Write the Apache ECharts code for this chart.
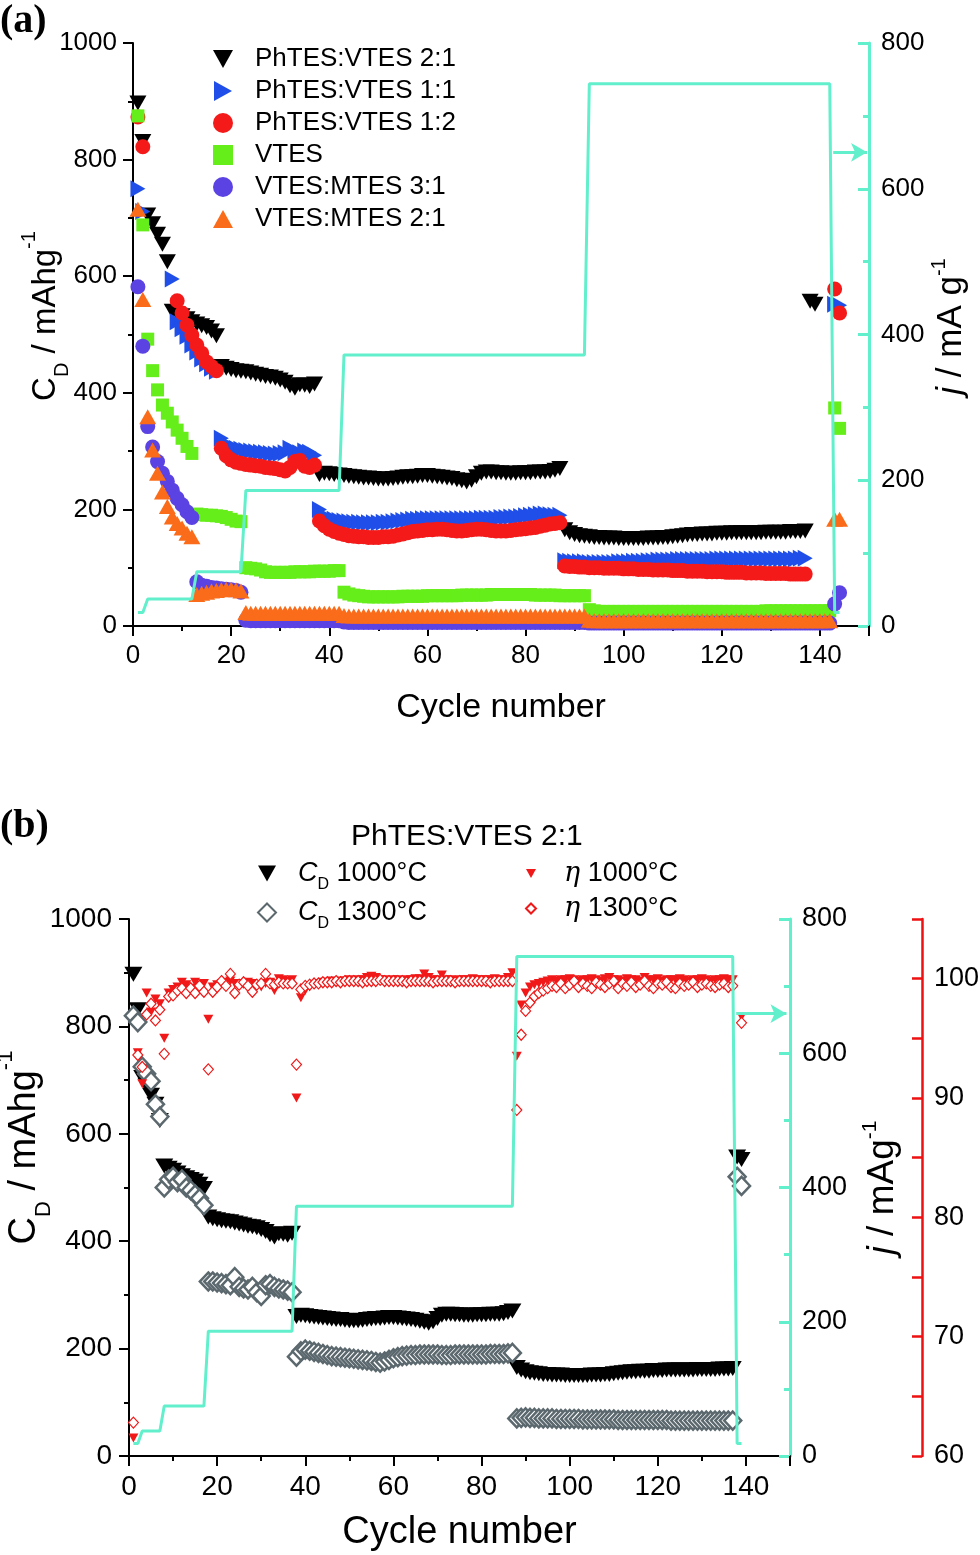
<!DOCTYPE html>
<html>
<head>
<meta charset="utf-8">
<script src="https://cdn.jsdelivr.net/npm/echarts@6/dist/echarts.min.js"></script>
<style>
  html, body { margin: 0; background: #fff; }
  #chart { width: 980px; height: 1555px; }
</style>
</head>
<body>
<div id="chart"></div>
<script>
const FONT = 'Liberation Sans, Arial, sans-serif';
const CYAN = '#62efcb';

// ---- panel (b) data, cycles 1..139 (also used for PhTES:VTES 2:1 in panel a) ----
const cd1000 = [
  897, 831, 705, 690, 672, 655, 625,
  540, 536, 532, 527, 522, 518, 515, 512, 506, 498,
  445, 442, 440, 438, 437, 436, 434, 432, 430, 428, 427, 425, 422, 418, 412, 408, 414, 413, 411, 415,
  260, 262, 261, 260, 259, 258, 257, 256, 255, 254,
  254, 253, 252, 252, 252, 253, 254, 255, 256, 256,
  257, 258, 258, 257, 256, 255, 254, 253, 251, 249,
  247, 250, 256, 262, 264, 264, 263, 263, 262, 262,
  262, 263, 263, 263, 264, 264, 264, 265, 267, 270,
  165, 160, 157, 155, 154, 153, 152, 152, 151, 151,
  151, 150, 150, 150, 150, 150, 150, 151, 151, 151,
  152, 152, 153, 154, 155, 156, 157, 157, 158, 158,
  158, 159, 159, 159, 160, 160, 160, 160, 160, 160,
  160, 161, 161, 161, 161, 161, 162, 162, 162, 163,
  557, 552
];
const cd1300 = [
  820, 808, 725, 712, 698, 655, 632,
  500, 515, 520, 510, 515, 500, 495, 487, 480, 467,
  325, 325, 323, 322, 320, 318, 333, 315, 312, 310, 315, 305, 298, 318, 320, 315, 312, 310, 308, 305,
  185, 195, 198, 196, 194, 192, 190, 188, 186, 185,
  184, 183, 182, 181, 180, 179, 178, 177, 175, 174,
  176, 179, 182, 184, 186, 187, 188, 188, 189, 189,
  189, 189, 189, 188, 188, 188, 189, 189, 189, 189,
  189, 189, 189, 189, 190, 190, 190, 190, 191, 192,
  70, 71, 72, 71, 71, 70, 70, 70, 70, 69,
  69, 69, 69, 69, 69, 68, 68, 68, 68, 68,
  68, 68, 68, 67, 67, 67, 67, 67, 67, 67,
  67, 67, 67, 67, 67, 66, 66, 66, 66, 66,
  66, 66, 66, 66, 66, 66, 66, 66, 66, 66,
  520, 503
];
const eta1000 = [
  61.5, 93.8, 91.2, 98.8, 97.2, 98.3, 97.9, 95.0, 98.8, 99.1,
  99.3, 99.7, 99.5, 99.2, 99.7, 99.4, 99.6, 96.6, 99.3, 99.5,
  99.6, 99.7, 99.8, 99.6, 99.5, 99.6, 99.7, 99.6, 99.4, 99.3,
  99.6, 99.7, 99.0, 100.0, 99.9, 99.8, 99.9, 90.0, 98.4, 99.0,
  99.3, 99.5, 99.6, 99.7, 99.7, 99.8, 99.7, 99.8, 99.8, 99.9,
  99.8, 99.9, 99.9, 100.1, 100.2, 100.1, 99.9, 99.9, 99.8, 99.9,
  99.9, 99.8, 99.9, 99.9, 100.0, 100.0, 100.4, 100.1, 99.9, 99.9,
  100.3, 99.9, 99.9, 99.8, 99.9, 99.9, 99.9, 100.0, 99.9, 99.9,
  99.9, 99.9, 100.0, 99.9, 99.9, 100.1, 100.5, 93.5, 97.8, 98.8,
  99.3, 99.5, 99.6, 99.7, 99.8, 99.9, 99.8, 99.9, 99.9, 100.0,
  99.9, 99.8, 99.9, 99.9, 100.0, 99.9, 99.8, 100.0, 100.1, 99.9,
  99.9, 99.8, 100.0, 99.9, 99.9, 99.8, 100.1, 99.9, 99.9, 100.0,
  99.8, 99.9, 99.9, 99.9, 100.0, 99.9, 99.8, 99.9, 99.9, 100.0,
  99.9, 99.8, 99.9, 99.9, 100.0, 99.9, 99.9,
  null, 96.8
];
const eta1300 = [
  62.8, 93.6, 92.6, 97.0, 97.9, 96.5, 97.4, 93.7, 98.5, 98.6,
  99.0, 99.2, 98.8, 99.2, 98.8, 99.4, 98.9, 92.4, 98.9, 99.3,
  99.8, 99.4, 100.4, 98.8, 99.5, 99.7, 99.4, 98.9, 99.5, 99.6,
  100.4, 99.6, 99.5, 99.7, 99.6, 99.6, 99.6, 92.8, 99.1, 99.4,
  99.5, 99.6, 99.6, 99.7, 99.7, 99.7, 99.8, 99.7, 99.8, 99.8,
  99.8, 99.8, 99.7, 99.8, 99.8, 99.8, 99.9, 99.8, 99.8, 99.8,
  99.8, 99.8, 99.7, 99.8, 99.8, 99.8, 99.8, 99.8, 99.7, 99.8,
  99.8, 99.8, 99.8, 99.7, 99.8, 99.8, 99.8, 99.8, 99.8, 99.8,
  99.8, 99.7, 99.8, 99.8, 99.8, 99.8, 99.8, 89.0, 95.3, 97.3,
  98.0, 98.5, 98.8, 99.0, 99.2, 99.4, 99.3, 99.6, 99.2, 99.5,
  99.8, 99.3, 99.6, 99.4, 99.2, 99.7, 99.5, 99.3, 99.6, 99.8,
  99.2, 99.6, 99.4, 99.7, 99.3, 99.5, 99.8, 99.4, 99.2, 99.6,
  99.5, 99.7, 99.3, 99.2, 99.6, 99.4, 99.5, 99.7, 99.3, 99.5,
  99.6, 99.4, 99.3, 99.5, 99.6, 99.3, 99.4,
  null, 96.3
];
// current density steps: [cycle, mA/g]
const jCyclesA = [1, 2, 3, 12, 13, 22, 23, 42, 43, 92, 93, 142, 143, 144];
const jCyclesB = [1, 2, 3, 7, 8, 17, 18, 37, 38, 87, 88, 137, 138, 139];
const jValues = [18.6, 18.6, 37.2, 37.2, 74.4, 74.4, 186, 186, 372, 372, 744, 744, 18.6, 18.6];

// ---- panel (a) data: [first cycle, values] segments ----
const blue11 = [
  [1, [750, 711]],
  [8, [595, 522, 510, 497, 482, 470, 458, 450, 442, 437]],
  [18, [322, 312, 308, 305, 303, 301, 300, 299, 298, 297, 296, 295, 296, 297, 305, 300, 297, 300, 298, 293]],
  [38, [200, 188, 185, 183, 181, 180, 179, 178, 178, 177,
        177, 177, 177, 178, 178, 179, 180, 181, 182, 183,
        183, 184, 184, 184, 184, 184, 184, 184, 184, 184,
        184, 184, 184, 185, 185, 185, 185, 186, 186, 187,
        187, 188, 189, 190, 191, 192, 192, 191, 190, 190]],
  [88, [112, 111, 110, 110, 110, 109, 109, 109, 109, 109,
        109, 110, 110, 110, 111, 111, 111, 112, 112, 113,
        113, 113, 113, 114, 114, 114, 114, 114, 114, 114,
        114, 115, 115, 115, 115, 115, 115, 115, 115, 115,
        115, 115, 115, 115, 115, 115, 115, 115, 116, 116]],
  [143, [552, 550]]
];
const red12 = [
  [1, [873, 822]],
  [9, [558, 537, 516, 499, 482, 468, 453, 445, 438]],
  [18, [305, 292, 285, 281, 279, 277, 276, 275, 274, 272, 271, 270, 268, 266, 272, 282, 284, 274, 272, 276]],
  [38, [180, 172, 166, 162, 159, 157, 155, 154, 153, 153,
        152, 152, 152, 153, 153, 154, 156, 158, 160, 162,
        163, 164, 165, 165, 166, 166, 165, 164, 163, 163,
        164, 165, 166, 166, 165, 164, 163, 163, 163, 164,
        165, 166, 167, 168, 169, 171, 173, 175, 176, 177]],
  [88, [103, 102, 102, 101, 101, 100, 100, 100, 99, 99,
        99, 99, 98, 98, 98, 97, 97, 97, 96, 96,
        96, 96, 95, 95, 95, 94, 94, 94, 94, 93,
        93, 93, 93, 92, 92, 92, 92, 91, 91, 91,
        91, 90, 90, 90, 90, 90, 89, 89, 89, 89]],
  [143, [578, 537]]
];
const vtes = [
  [1, [875, 688, 492, 438, 405, 379, 365, 350, 336, 322, 308, 296]],
  [13, [192, 191, 190, 190, 189, 188, 186, 183, 180, 179]],
  [23, [100, 99, 98, 96, 93, 92, 92, 92, 92, 92, 93, 93, 93, 93, 94, 94, 94, 94, 95, 95]],
  [43, [58, 55, 53, 52, 51, 50, 50, 50, 50, 50,
        50, 50, 51, 51, 51, 51, 51, 52, 52, 52,
        52, 52, 52, 52, 53, 53, 53, 53, 53, 53,
        54, 54, 54, 54, 54, 54, 54, 54, 54, 53,
        53, 53, 53, 53, 52, 52, 52, 52, 52, 52]],
  [93, [28, 26, 25, 25, 25, 25, 25, 25, 25, 25,
        25, 25, 25, 25, 25, 25, 25, 25, 25, 25,
        25, 25, 25, 25, 25, 25, 25, 25, 25, 25,
        25, 25, 25, 25, 25, 25, 26, 26, 26, 26,
        26, 26, 26, 26, 26, 26, 26, 26, 26, 26]],
  [143, [374, 339]]
];
const vmtes31 = [
  [1, [582, 480, 342, 307, 282, 262, 248, 233, 219, 208, 196, 186]],
  [13, [76, 70, 68, 66, 65, 64, 63, 62, 61, 58]],
  [23, [10, 9, 9, 9, 9, 9, 9, 9, 9, 9, 9, 9, 9, 9, 9, 9, 9, 9, 9, 9]],
  [43, [7, 6, 6, 6, 6, 6, 6, 6, 6, 6,
        6, 6, 6, 6, 6, 6, 6, 6, 6, 6,
        6, 6, 6, 6, 6, 6, 6, 6, 6, 6,
        6, 6, 6, 6, 6, 6, 6, 6, 6, 6,
        6, 6, 6, 6, 6, 6, 6, 6, 6, 6,
        5, 5, 5, 5, 5, 5, 5, 5, 5, 5,
        5, 5, 5, 5, 5, 5, 5, 5, 5, 5,
        5, 5, 5, 5, 5, 5, 5, 5, 5, 5,
        5, 5, 5, 5, 5, 5, 5, 5, 5, 5,
        5, 5, 5, 5, 5, 5, 5, 5, 5, 5]],
  [143, [38, 57]]
];
const vmtes21 = [
  [1, [715, 560, 359, 302, 262, 230, 205, 187, 176, 168, 159, 153]],
  [13, [54, 56, 58, 60, 61, 62, 63, 63, 62, 60]],
  [23, [23, 22, 22, 22, 22, 22, 22, 22, 22, 22, 22, 22, 22, 22, 22, 22, 22, 22, 22, 22]],
  [43, [18, 17, 17, 17, 17, 17, 17, 17, 17, 17,
        17, 17, 17, 17, 17, 17, 17, 17, 17, 17,
        17, 17, 17, 17, 17, 17, 17, 17, 17, 17,
        17, 17, 17, 17, 17, 17, 17, 17, 17, 17,
        17, 17, 17, 17, 17, 17, 17, 17, 17, 17]],
  [93, [10, 9, 9, 9, 9, 9, 9, 9, 9, 9,
        9, 9, 9, 9, 9, 9, 9, 9, 9, 9,
        9, 9, 9, 9, 9, 9, 9, 9, 9, 9,
        9, 9, 9, 9, 9, 9, 9, 9, 9, 9,
        9, 9, 9, 9, 9, 9, 9, 9, 9, 9]],
  [143, [183, 183]]
];
const namesA = ['PhTES:VTES 2:1', 'PhTES:VTES 1:1', 'PhTES:VTES 1:2', 'VTES', 'VTES:MTES 3:1', 'VTES:MTES 2:1'];

function toPoints(segs) {
  const pts = [];
  segs.forEach(([start, vals]) => vals.forEach((v, i) => {
    if (v !== null) pts.push([start + i, v]);
  }));
  return pts;
}
function zip(xs, ys) {
  return xs.map((x, i) => [x, ys[i]]);
}

const DOWN = 'path://M0,0L10,0L5,9Z';
const RIGHT = 'path://M0,0L9,5L0,10Z';
const UP = 'path://M5,0L10,9L0,9Z';
const DIAMOND = 'path://M5,0L10,5L5,10L0,5Z';

function xAxis(gridIndex, labelSize, nameSize, nameGap) {
  return {
    type: 'value', gridIndex: gridIndex, min: 0, max: 150, interval: 20,
    name: 'Cycle number', nameLocation: 'middle', nameGap: nameGap, nameMoveOverlap: false,
    nameTextStyle: { fontFamily: FONT, fontSize: nameSize, color: '#000' },
    axisLine: { onZero: false, lineStyle: { color: '#000', width: 2 } },
    axisTick: { length: 10, lineStyle: { color: '#000', width: 2 } },
    minorTick: { show: true, splitNumber: 2, length: 5, lineStyle: { color: '#000', width: 2 } },
    axisLabel: { fontFamily: FONT, fontSize: labelSize, color: '#000', margin: 17,
      formatter: v => (v % 20 === 0 ? String(v) : '') },
    splitLine: { show: false }
  };
}
function leftAxis(gridIndex, labelSize, name, nameStyle, nameGap, margin) {
  return {
    type: 'value', gridIndex: gridIndex, position: 'left', min: 0, max: 1000, interval: 200,
    name: name, nameLocation: 'middle', nameGap: nameGap, nameRotate: 90, nameMoveOverlap: false,
    nameTextStyle: nameStyle,
    axisLine: { show: true, onZero: false, lineStyle: { color: '#000', width: 2 } },
    axisTick: { show: true, length: 10, lineStyle: { color: '#000', width: 2 } },
    minorTick: { show: true, splitNumber: 2, length: 5, lineStyle: { color: '#000', width: 2 } },
    axisLabel: { fontFamily: FONT, fontSize: labelSize, color: '#000', margin: margin,
      formatter: v => String(v) },
    splitLine: { show: false }
  };
}
function jAxis(gridIndex, labelSize, name, nameStyle, nameGap) {
  return {
    type: 'value', gridIndex: gridIndex, position: 'right', min: 0, max: 800, interval: 200,
    name: name, nameLocation: 'middle', nameGap: nameGap, nameRotate: 90, nameMoveOverlap: false,
    nameTextStyle: nameStyle,
    axisLine: { show: true, onZero: false, lineStyle: { color: CYAN, width: 3 } },
    axisTick: { show: true, inside: true, length: 11, lineStyle: { color: CYAN, width: 3 } },
    minorTick: { show: true, splitNumber: 2, length: 6, lineStyle: { color: CYAN, width: 3 } },
    axisLabel: { fontFamily: FONT, fontSize: labelSize, color: '#000', margin: 12,
      formatter: v => String(v) },
    splitLine: { show: false }
  };
}
function nameRich(size, small, lh, padLeft) {
  return {
    padding: [0, 0, 0, padLeft],
    rich: {
      n: { fontFamily: FONT, fontSize: size, color: '#000', lineHeight: lh },
      i: { fontFamily: FONT, fontSize: size, color: '#000', lineHeight: lh, fontStyle: 'italic' },
      s: { fontFamily: FONT, fontSize: small, color: '#000', lineHeight: small, verticalAlign: 'bottom' },
      p: { fontFamily: FONT, fontSize: small, color: '#000', lineHeight: small + 10, verticalAlign: 'top' }
    }
  };
}

const legendNamesB = {
  'CD1000': '{i|C}{s|D}{n| 1000°C}',
  'CD1300': '{i|C}{s|D}{n| 1300°C}',
  'ETA1000': '{g|η}{n| 1000°C}',
  'ETA1300': '{g|η}{n| 1300°C}'
};
function legendRich(lh) {
  return {
    n: { fontFamily: FONT, fontSize: 27, color: '#000', lineHeight: lh },
    i: { fontFamily: FONT, fontSize: 27, color: '#000', lineHeight: lh, fontStyle: 'italic' },
    g: { fontFamily: 'DejaVu Serif, serif', fontSize: 27, color: '#000', lineHeight: lh, fontStyle: 'italic' },
    s: { fontFamily: FONT, fontSize: 16, color: '#000', lineHeight: 16, verticalAlign: 'bottom' }
  };
}

const chart = echarts.init(document.getElementById('chart'), null, { renderer: 'canvas' });
chart.setOption({
  backgroundColor: '#fff',
  animation: false,
  title: {
    text: 'PhTES:VTES 2:1', left: 346, top: 817,
    textStyle: { fontFamily: FONT, fontSize: 30, fontWeight: 'normal', color: '#000' }
  },
  graphic: [
    { type: 'text', left: 0, top: 2, style: { text: '(a)', font: 'bold 40px "Liberation Serif", serif', fill: '#000' } },
    { type: 'text', left: 0, top: 807, style: { text: '(b)', font: 'bold 40px "Liberation Serif", serif', fill: '#000' } }
  ],
  legend: [
    {
      data: namesA, orient: 'vertical', left: 208, top: 38,
      itemWidth: 20, itemHeight: 20, itemGap: 0, selectedMode: false, symbolKeepAspect: true,
      textStyle: { fontFamily: FONT, fontSize: 26, color: '#000', lineHeight: 32, padding: [0, 0, 0, 17] }
    },
    {
      data: ['CD1000', 'CD1300'], orient: 'vertical', left: 252, top: 855,
      itemWidth: 18, itemHeight: 18, itemGap: 6, selectedMode: false, symbolKeepAspect: true,
      formatter: n => legendNamesB[n], textStyle: { padding: [0, 0, 0, 17], rich: legendRich(39) }
    },
    {
      data: ['ETA1000', 'ETA1300'], orient: 'vertical', left: 520, top: 855,
      itemWidth: 10, itemHeight: 10, itemGap: 8, selectedMode: false, symbolKeepAspect: true,
      formatter: n => legendNamesB[n], textStyle: { padding: [0, 0, 0, 23], rich: legendRich(35) }
    }
  ],
  grid: [
    { left: 133, top: 43, width: 736, height: 583, outerBoundsMode: 'none', containLabel: false },
    { left: 129, top: 919, width: 661, height: 537, outerBoundsMode: 'none', containLabel: false }
  ],
  xAxis: [xAxis(0, 26, 34, 65), xAxis(1, 28, 38, 58)],
  yAxis: [
    leftAxis(0, 26, '{n|C}{s|D}{n| / mAhg}{p|-1}', nameRich(33, 20, 53, 37), 61, 16),
    jAxis(0, 26, '{i|j}{n| / mA g}{p|-1}', nameRich(35, 20, 44, 16), 60),
    leftAxis(1, 28, '{n|C}{s|D}{n| / mAhg}{p|-1}', nameRich(38, 22, 60, 80), 74, 17),
    jAxis(1, 27, '{i|j}{n| / mAg}{p|-1}', nameRich(37, 21, 46, 0), 70),
    {
      type: 'value', gridIndex: 1, position: 'right', offset: 132, min: 60, max: 105, interval: 5,
      axisLine: { show: true, onZero: false, lineStyle: { color: '#ee1111', width: 2.5 } },
      axisTick: { show: true, inside: true, length: 10, lineStyle: { color: '#ee1111', width: 2.5 } },
      axisLabel: { fontFamily: FONT, fontSize: 27, color: '#000', margin: 12,
        formatter: v => (v % 10 === 0 ? String(v) : '') },
      splitLine: { show: false }
    }
  ],
  series: [
    // panel (a)
    { name: namesA[0], type: 'scatter', xAxisIndex: 0, yAxisIndex: 0, data: toPoints([[1, cd1000]]),
      symbol: DOWN, symbolSize: [17, 15], itemStyle: { color: '#000', opacity: 1 } },
    { name: namesA[1], type: 'scatter', xAxisIndex: 0, yAxisIndex: 0, data: toPoints(blue11),
      symbol: RIGHT, symbolSize: [15, 17], itemStyle: { color: '#1f4fe8', opacity: 1 } },
    { name: namesA[2], type: 'scatter', xAxisIndex: 0, yAxisIndex: 0, data: toPoints(red12),
      symbol: 'circle', symbolSize: 15, itemStyle: { color: '#f51a1a', opacity: 1 } },
    { name: namesA[3], type: 'scatter', xAxisIndex: 0, yAxisIndex: 0, data: toPoints(vtes),
      symbol: 'path://M0,0L10,0L10,10L0,10Z', symbolSize: 13, itemStyle: { color: '#66ee1a', opacity: 1 } },
    { name: namesA[4], type: 'scatter', xAxisIndex: 0, yAxisIndex: 0, data: toPoints(vmtes31),
      symbol: 'circle', symbolSize: 15, itemStyle: { color: '#5b42e3', opacity: 1 } },
    { name: namesA[5], type: 'scatter', xAxisIndex: 0, yAxisIndex: 0, data: toPoints(vmtes21),
      symbol: UP, symbolSize: [17, 15], itemStyle: { color: '#fa6c1a', opacity: 1 } },
    { name: 'jA', type: 'line', xAxisIndex: 0, yAxisIndex: 1, data: zip(jCyclesA, jValues),
      symbol: 'none', lineStyle: { color: CYAN, width: 3 }, z: 3,
      markLine: { silent: true, symbol: ['none', 'arrow'], symbolSize: [14, 16], animation: false,
        label: { show: false }, lineStyle: { color: CYAN, width: 3, type: 'solid' },
        data: [[{ coord: [142.7, 650] }, { coord: [149.6, 650] }]] } },
    // panel (b)
    { name: 'CD1000', type: 'scatter', xAxisIndex: 1, yAxisIndex: 2, data: toPoints([[1, cd1000]]),
      symbol: DOWN, symbolSize: [18, 15], itemStyle: { color: '#000', opacity: 1 } },
    { name: 'CD1300', type: 'scatter', xAxisIndex: 1, yAxisIndex: 2, data: toPoints([[1, cd1300]]),
      symbol: DIAMOND, symbolSize: [17, 18],
      itemStyle: { color: '#fff', borderColor: '#5b686e', borderWidth: 2.5, opacity: 1 } },
    { name: 'ETA1000', type: 'scatter', xAxisIndex: 1, yAxisIndex: 4, data: toPoints([[1, eta1000]]),
      symbol: DOWN, symbolSize: [10, 9], itemStyle: { color: '#f01818', opacity: 1 } },
    { name: 'ETA1300', type: 'scatter', xAxisIndex: 1, yAxisIndex: 4, data: toPoints([[1, eta1300]]),
      symbol: DIAMOND, symbolSize: [10, 11],
      itemStyle: { color: '#fff', borderColor: '#f01818', borderWidth: 1.2, opacity: 1 } },
    { name: 'jB', type: 'line', xAxisIndex: 1, yAxisIndex: 3, data: zip(jCyclesB, jValues),
      symbol: 'none', lineStyle: { color: CYAN, width: 3 }, z: 3,
      markLine: { silent: true, symbol: ['none', 'arrow'], symbolSize: [14, 16], animation: false,
        label: { show: false }, lineStyle: { color: CYAN, width: 3, type: 'solid' },
        data: [[{ coord: [137.8, 659] }, { coord: [149.2, 659] }]] } }
  ]
});
window.onresize = () => chart.resize();
</script>
</body>
</html>
